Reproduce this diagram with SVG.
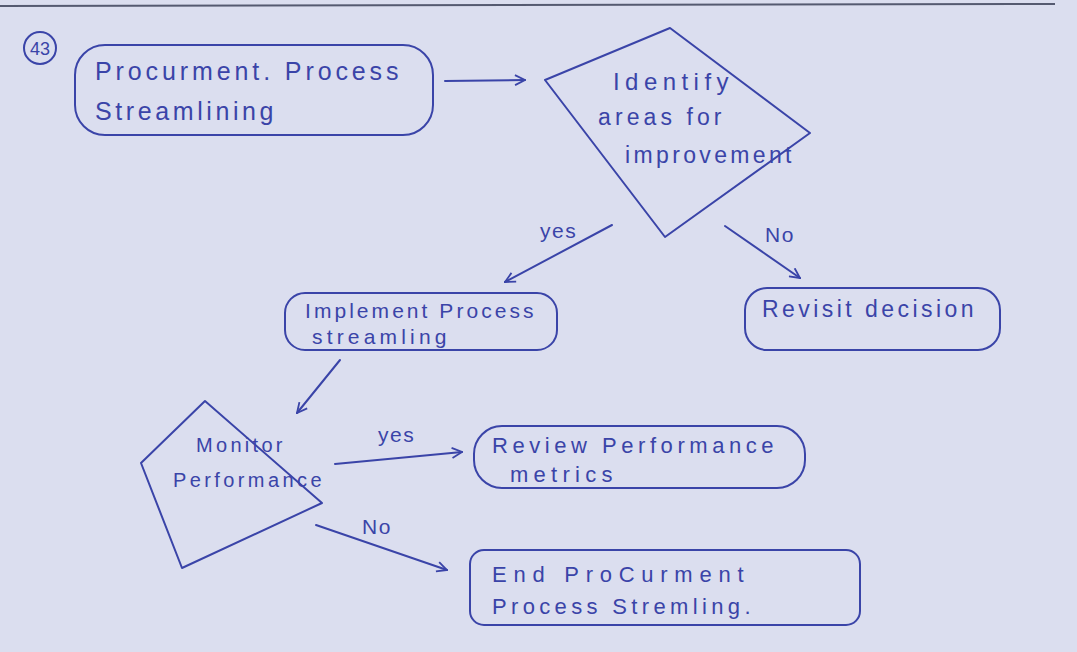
<svg xmlns="http://www.w3.org/2000/svg" width="1077" height="652" viewBox="0 0 1077 652">
<style>
.s{fill:none;stroke:#3a44a8;stroke-width:2;stroke-linejoin:round;stroke-linecap:round}
.t{font-family:"Liberation Sans",Arial,sans-serif;fill:#3a44a8;font-size:22px;letter-spacing:1.5px}
.c{fill:none;stroke:#3a44a8;stroke-width:2;stroke-linecap:round}
</style>
<defs>
<marker id="ah" viewBox="0 0 12 12" refX="11" refY="6" markerWidth="12" markerHeight="12" markerUnits="userSpaceOnUse" orient="auto">
<path d="M1,1 L11,6 L1,11" fill="none" stroke="#3a44a8" stroke-width="1.8"/>
</marker>
</defs>
<rect width="1077" height="652" fill="#dbdeef"/>
<line x1="0" y1="6" x2="1055" y2="4" stroke="#555a70" stroke-width="2"/>
<g id="label43">
<circle cx="40" cy="48" r="16" class="s"/>
<text x="40" y="55" class="t" text-anchor="middle" style="font-size:18px;letter-spacing:0">43</text>
</g>
<g id="n1">
<rect x="75" y="45" width="358" height="90" rx="30" class="s"/>
<text x="95" y="80" class="t" style="font-size:25px" textLength="305" lengthAdjust="spacing">Procurment. Process</text>
<text x="95" y="120" class="t" style="font-size:25px" textLength="180" lengthAdjust="spacing">Streamlining</text>
</g>
<g id="n2">
<polygon points="670,28 545,80 665,237 810,133" class="s"/>
<text x="613" y="90" class="t" style="font-size:24px" textLength="117" lengthAdjust="spacing">Identify</text>
<text x="598" y="125" class="t" style="font-size:23px" textLength="125" lengthAdjust="spacing">areas for</text>
<text x="625" y="163" class="t" style="font-size:23px" textLength="168" lengthAdjust="spacing">improvement</text>
</g>
<g id="n3">
<rect x="285" y="293" width="272" height="57" rx="20" class="s"/>
<text x="305" y="318" class="t" style="font-size:21px" textLength="230" lengthAdjust="spacing">Implement Process</text>
<text x="312" y="344" class="t" style="font-size:21px" textLength="136" lengthAdjust="spacing">streamling</text>
</g>
<g id="n4">
<rect x="745" y="288" width="255" height="62" rx="22" class="s"/>
<text x="762" y="317" class="t" style="font-size:23px" textLength="213" lengthAdjust="spacing">Revisit decision</text>
</g>
<g id="n5">
<polygon points="205,401 141,463 182,568 322,503" class="s"/>
<text x="196" y="452" class="t" style="font-size:20px" textLength="88" lengthAdjust="spacing">Monitor</text>
<text x="173" y="487" class="t" style="font-size:20px" textLength="150" lengthAdjust="spacing">Performance</text>
</g>
<g id="n6">
<rect x="474" y="426" width="331" height="62" rx="28" class="s"/>
<text x="492" y="453" class="t" style="font-size:22px" textLength="283" lengthAdjust="spacing">Review Performance</text>
<text x="510" y="482" class="t" style="font-size:22px" textLength="104" lengthAdjust="spacing">metrics</text>
</g>
<g id="n7">
<rect x="470" y="550" width="390" height="75" rx="14" class="s"/>
<text x="492" y="582" class="t" style="font-size:22px" textLength="253" lengthAdjust="spacing">End  ProCurment</text>
<text x="492" y="614" class="t" style="font-size:22px" textLength="260" lengthAdjust="spacing">Process Stremling.</text>
</g>
<g id="connectors">
<line x1="445" y1="81" x2="525" y2="80" class="c" marker-end="url(#ah)"/>
<line x1="612" y1="225" x2="505" y2="282" class="c" marker-end="url(#ah)"/>
<line x1="725" y1="226" x2="800" y2="278" class="c" marker-end="url(#ah)"/>
<line x1="340" y1="360" x2="297" y2="413" class="c" marker-end="url(#ah)"/>
<line x1="335" y1="464" x2="462" y2="452" class="c" marker-end="url(#ah)"/>
<line x1="316" y1="525" x2="447" y2="570" class="c" marker-end="url(#ah)"/>
<text x="540" y="238" class="t" style="font-size:21px">yes</text>
<text x="765" y="242" class="t" style="font-size:21px">No</text>
<text x="378" y="442" class="t" style="font-size:21px">yes</text>
<text x="362" y="534" class="t" style="font-size:21px">No</text>
</g>
</svg>
